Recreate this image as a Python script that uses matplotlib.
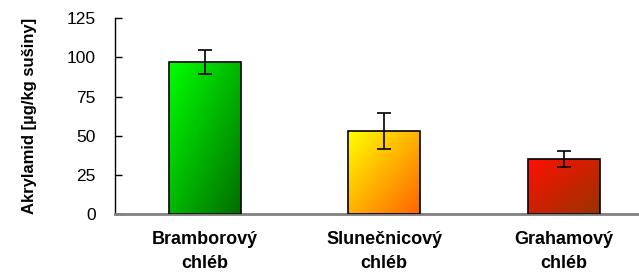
import numpy as np
import matplotlib

matplotlib.use("Agg")
import matplotlib.pyplot as plt
from matplotlib.colors import to_rgb

# data
categories = ["Bramborový\nchléb", "Slunečnicový\nchléb", "Grahamový\nchléb"]
values = [97, 53, 35]
errors = [7.5, 11.5, 5]
y_ticks = [0, 25, 50, 75, 100, 125]

# gradient ends (top-left -> bottom-right)
grad_start = ["#00FF00", "#FFFF00", "#FF1000"]
grad_end = ["#006E00", "#FF6400", "#993300"]

plt.rcParams["font.family"] = ["Liberation Sans", "DejaVu Sans"]

fig = plt.figure(figsize=(6.39, 2.73), dpi=100)
ax = fig.add_axes([0.18, 0.216, 0.82, 0.717])

x = np.arange(len(values))
bars = ax.bar(x, values, width=0.4, color="none", edgecolor="black", lw=1.2, zorder=3)

# diagonal gradient fill clipped to each bar
u, v = np.meshgrid(np.linspace(0, 1, 60), np.linspace(0, 1, 60))
t = (u + v) / 2
for bar, c0, c1 in zip(bars, grad_start, grad_end):
    a, b = np.array(to_rgb(c0)), np.array(to_rgb(c1))
    img = a[None, None, :] * (1 - t[..., None]) + b[None, None, :] * t[..., None]
    bx, by = bar.get_x(), bar.get_y()
    im = ax.imshow(img, extent=(bx, bx + bar.get_width(), by, by + bar.get_height()),
                   origin="upper", aspect="auto", zorder=2, interpolation="bilinear")
    im.set_clip_path(bar)

ax.errorbar(x, values, yerr=errors, fmt="none", ecolor="black", elinewidth=1.2,
            capsize=5, capthick=1.2, zorder=4)

ax.set_xlim(-0.5, 2.42)
ax.set_ylim(0, 125)
ax.set_yticks(y_ticks)
ax.set_xticks(x)
ax.set_xticklabels(categories, fontsize=13, fontweight="bold", linespacing=1.55)
ax.tick_params(axis="x", length=0, pad=12)
ax.tick_params(axis="y", direction="in", length=5, width=1, labelsize=12.5, pad=14)
ax.set_ylabel("Akrylamid [µg/kg sušiny]", fontsize=12, fontweight="bold")
ax.yaxis.set_label_coords(-0.148, 0.5)

for s in ("top", "right"):
    ax.spines[s].set_visible(False)
ax.spines["left"].set_linewidth(1)
ax.spines["bottom"].set_color("#808080")
ax.spines["bottom"].set_linewidth(2)

fig.savefig("out.png", dpi=100)
